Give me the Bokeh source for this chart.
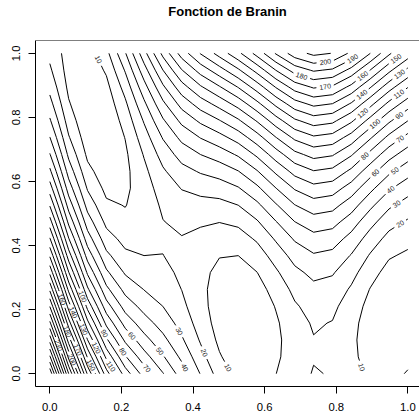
import numpy as np
import contourpy
from bokeh.plotting import figure
from bokeh.models import FixedTicker, PrintfTickFormatter, Range1d, Span, LinearAxis
from bokeh.core.properties import value
from bokeh.embed import file_html
from bokeh.resources import INLINE

# Evaluation grid on the unit square (20 x 20 points)
grid_x = np.linspace(0.0, 1.0, 20)
grid_y = np.linspace(0.0, 1.0, 20)

# Contour levels
levels = list(range(10, 301, 10))

# Axis ticks
x_ticks = [0.0, 0.2, 0.4, 0.6, 0.8, 1.0]
y_ticks = [0.0, 0.2, 0.4, 0.6, 0.8, 1.0]

# Contour labels: level and approximate anchor on the unit square
label_level = [200, 190, 180, 170, 160, 150, 140, 130, 120, 110, 100, 90, 80, 70,
               60, 50, 40, 30, 20, 10, 10, 10,
               20, 30, 40, 50, 60, 70, 80, 90, 100, 110, 120, 130, 140, 150,
               160, 170, 180, 200, 230]
label_x = [0.770, 0.863, 0.702, 0.770, 0.879, 0.982, 0.877, 0.984, 0.879, 0.984,
           0.915, 0.984, 0.882, 0.984, 0.915, 0.970, 0.956, 0.975, 0.987,
           0.4955, 0.866, 0.132,
           0.428, 0.358, 0.376, 0.305, 0.225, 0.270, 0.202, 0.151, 0.0885, 0.165,
           0.126, 0.092, 0.058, 0.114, 0.027, 0.078, 0.046, 0.058, 0.0235]
label_y = [0.969, 0.988, 0.924, 0.8875, 0.922, 0.984, 0.864, 0.924, 0.807, 0.859,
           0.771, 0.794, 0.677, 0.724, 0.620, 0.623, 0.568, 0.519, 0.453,
           0.010, 0.016, 0.984,
           0.064, 0.130, 0.010, 0.0675, 0.114, 0.010, 0.0675, 0.125, 0.239, 0.019,
           0.078, 0.1375, 0.1875, 0.026, 0.229, 0.075, 0.130, 0.0415, 0.088]


def branin(u, v):
    """Branin function with both inputs rescaled to [0, 1]."""
    x1 = 15.0 * u - 5.0
    x2 = 15.0 * v
    b = 5.1 / (4.0 * np.pi ** 2)
    c = 5.0 / np.pi
    t = 1.0 / (8.0 * np.pi)
    return (x2 - b * x1 ** 2 + c * x1 - 6.0) ** 2 + 10.0 * (1.0 - t) * np.cos(x1) + 10.0


U, V = np.meshgrid(grid_x, grid_y)
Z = branin(U, V)

gen = contourpy.contour_generator(grid_x, grid_y, Z, line_type="Separate")
pieces = {lev: [np.asarray(a, dtype=float) for a in gen.lines(lev) if len(a) > 1]
          for lev in levels}

# pixel scale of the frame (px per unit), used for label widths and angles
KX, KY = 358.0, 320.0
SCALE = np.array([KX, KY])
LABEL_PX = 7.0


def arc(poly):
    seg = np.hypot(np.diff(poly[:, 0]), np.diff(poly[:, 1]))
    return np.concatenate([[0.0], np.cumsum(seg)])


def at(poly, s, pos):
    return np.array([np.interp(pos, s, poly[:, 0]), np.interp(pos, s, poly[:, 1])])


def nearest(poly, q):
    a, b = poly[:-1], poly[1:]
    ab = b - a
    l2 = (ab ** 2).sum(1)
    l2[l2 == 0] = 1e-12
    t = np.clip(((q - a) * ab).sum(1) / l2, 0.0, 1.0)
    proj = a + ab * t[:, None]
    d = np.hypot(proj[:, 0] - q[0], proj[:, 1] - q[1])
    k = int(d.argmin())
    s = arc(poly)
    return d[k], s[k] + t[k] * (s[k + 1] - s[k])


lab_x, lab_y, lab_t, lab_a = [], [], [], []
for lev, ax_, ay_ in zip(label_level, label_x, label_y):
    polys = [pc * SCALE for pc in pieces[lev]]
    if not polys:
        continue
    q = np.array([ax_, ay_]) * SCALE
    best = None
    for i, pl in enumerate(polys):
        d, s0 = nearest(pl, q)
        if best is None or d < best[0]:
            best = (d, i, s0)
    _, i, s0 = best
    pl = polys[i]
    s = arc(pl)
    txt = str(lev)
    w = len(txt) * 0.556 * LABEL_PX + 6.0
    total = s[-1]
    if total > w:
        s0 = min(max(s0, w / 2), total - w / 2)
    lo, hi = s0 - w / 2, s0 + w / 2
    A, B = at(pl, s, max(lo, 0)), at(pl, s, min(hi, total))
    ang = np.arctan2(B[1] - A[1], B[0] - A[0])
    if ang > np.pi / 2:
        ang -= np.pi
    elif ang < -np.pi / 2:
        ang += np.pi
    c = at(pl, s, s0)
    lab_x.append(c[0] / KX)
    lab_y.append(c[1] / KY)
    lab_t.append(txt)
    lab_a.append(float(ang))
    # break the line where the label sits
    new = []
    if lo > 0:
        keep = s < lo
        new.append(np.vstack([pl[keep], A]))
    if hi < total:
        keep = s > hi
        new.append(np.vstack([B, pl[keep]]))
    polys = polys[:i] + new + polys[i + 1:]
    pieces[lev] = [pp / SCALE for pp in polys]

xs, ys = [], []
for lev in levels:
    for pc in pieces[lev]:
        if len(pc) > 1:
            xs.append(pc[:, 0].tolist())
            ys.append(pc[:, 1].tolist())

p = figure(width=419, height=413, output_backend="svg", toolbar_location=None,
           x_range=Range1d(-0.04, 1.0326), y_range=Range1d(-0.04, 1.04),
           min_border_left=35, min_border_right=0, min_border_top=40,
           min_border_bottom=27, title="Fonction de Branin")

p.background_fill_color = "white"
p.border_fill_color = "white"
p.outline_line_color = None
p.grid.visible = False

bottom_axis = p.below[0]
left_axis = p.left[0]

# blank spacer axis that lifts the title away from the frame
spacer = LinearAxis(ticker=FixedTicker(ticks=[0.5]),
                    formatter=PrintfTickFormatter(format=" "),
                    major_tick_out=7, major_tick_in=0,
                    axis_line_color=None, major_tick_line_color=None,
                    minor_tick_line_color=None, major_label_standoff=0,
                    major_label_text_font="Liberation Sans",
                    major_label_text_font_size="11.3px",
                    major_label_text_color="black")
p.add_layout(spacer, "above")

p.title.align = "center"
p.title.vertical_align = "bottom"
p.title.text_font = "Liberation Sans"
p.title.text_font_size = "13px"
p.title.text_font_style = "bold"
p.title.text_color = "black"
if "standoff" in p.title.properties():
    p.title.standoff = 0

for ax, ticks in ((bottom_axis, x_ticks), (left_axis, y_ticks)):
    ax.ticker = FixedTicker(ticks=ticks)
    ax.formatter = PrintfTickFormatter(format="%.1f")
    ax.minor_tick_line_color = None
    ax.major_tick_in = 0
    ax.major_tick_out = 7
    ax.major_tick_line_color = "black"
    ax.axis_line_color = "black"
    ax.major_label_text_font = "Liberation Sans"
    ax.major_label_text_font_size = "11.3px"
    ax.major_label_text_color = "black"
bottom_axis.major_label_standoff = 9
left_axis.major_label_standoff = 8
left_axis.major_label_orientation = "vertical"

p.add_layout(Span(location=1.04, dimension="width", line_color="black", line_width=1))

p.multi_line(xs, ys, line_color="black", line_width=1)
p.text(lab_x, lab_y, text=lab_t, angle=lab_a, text_align="center",
       text_baseline="middle", text_font=value("Liberation Sans"),
       text_font_size="7px", text_color="#222222")

open("out.html", "w").write(file_html(p, INLINE))
